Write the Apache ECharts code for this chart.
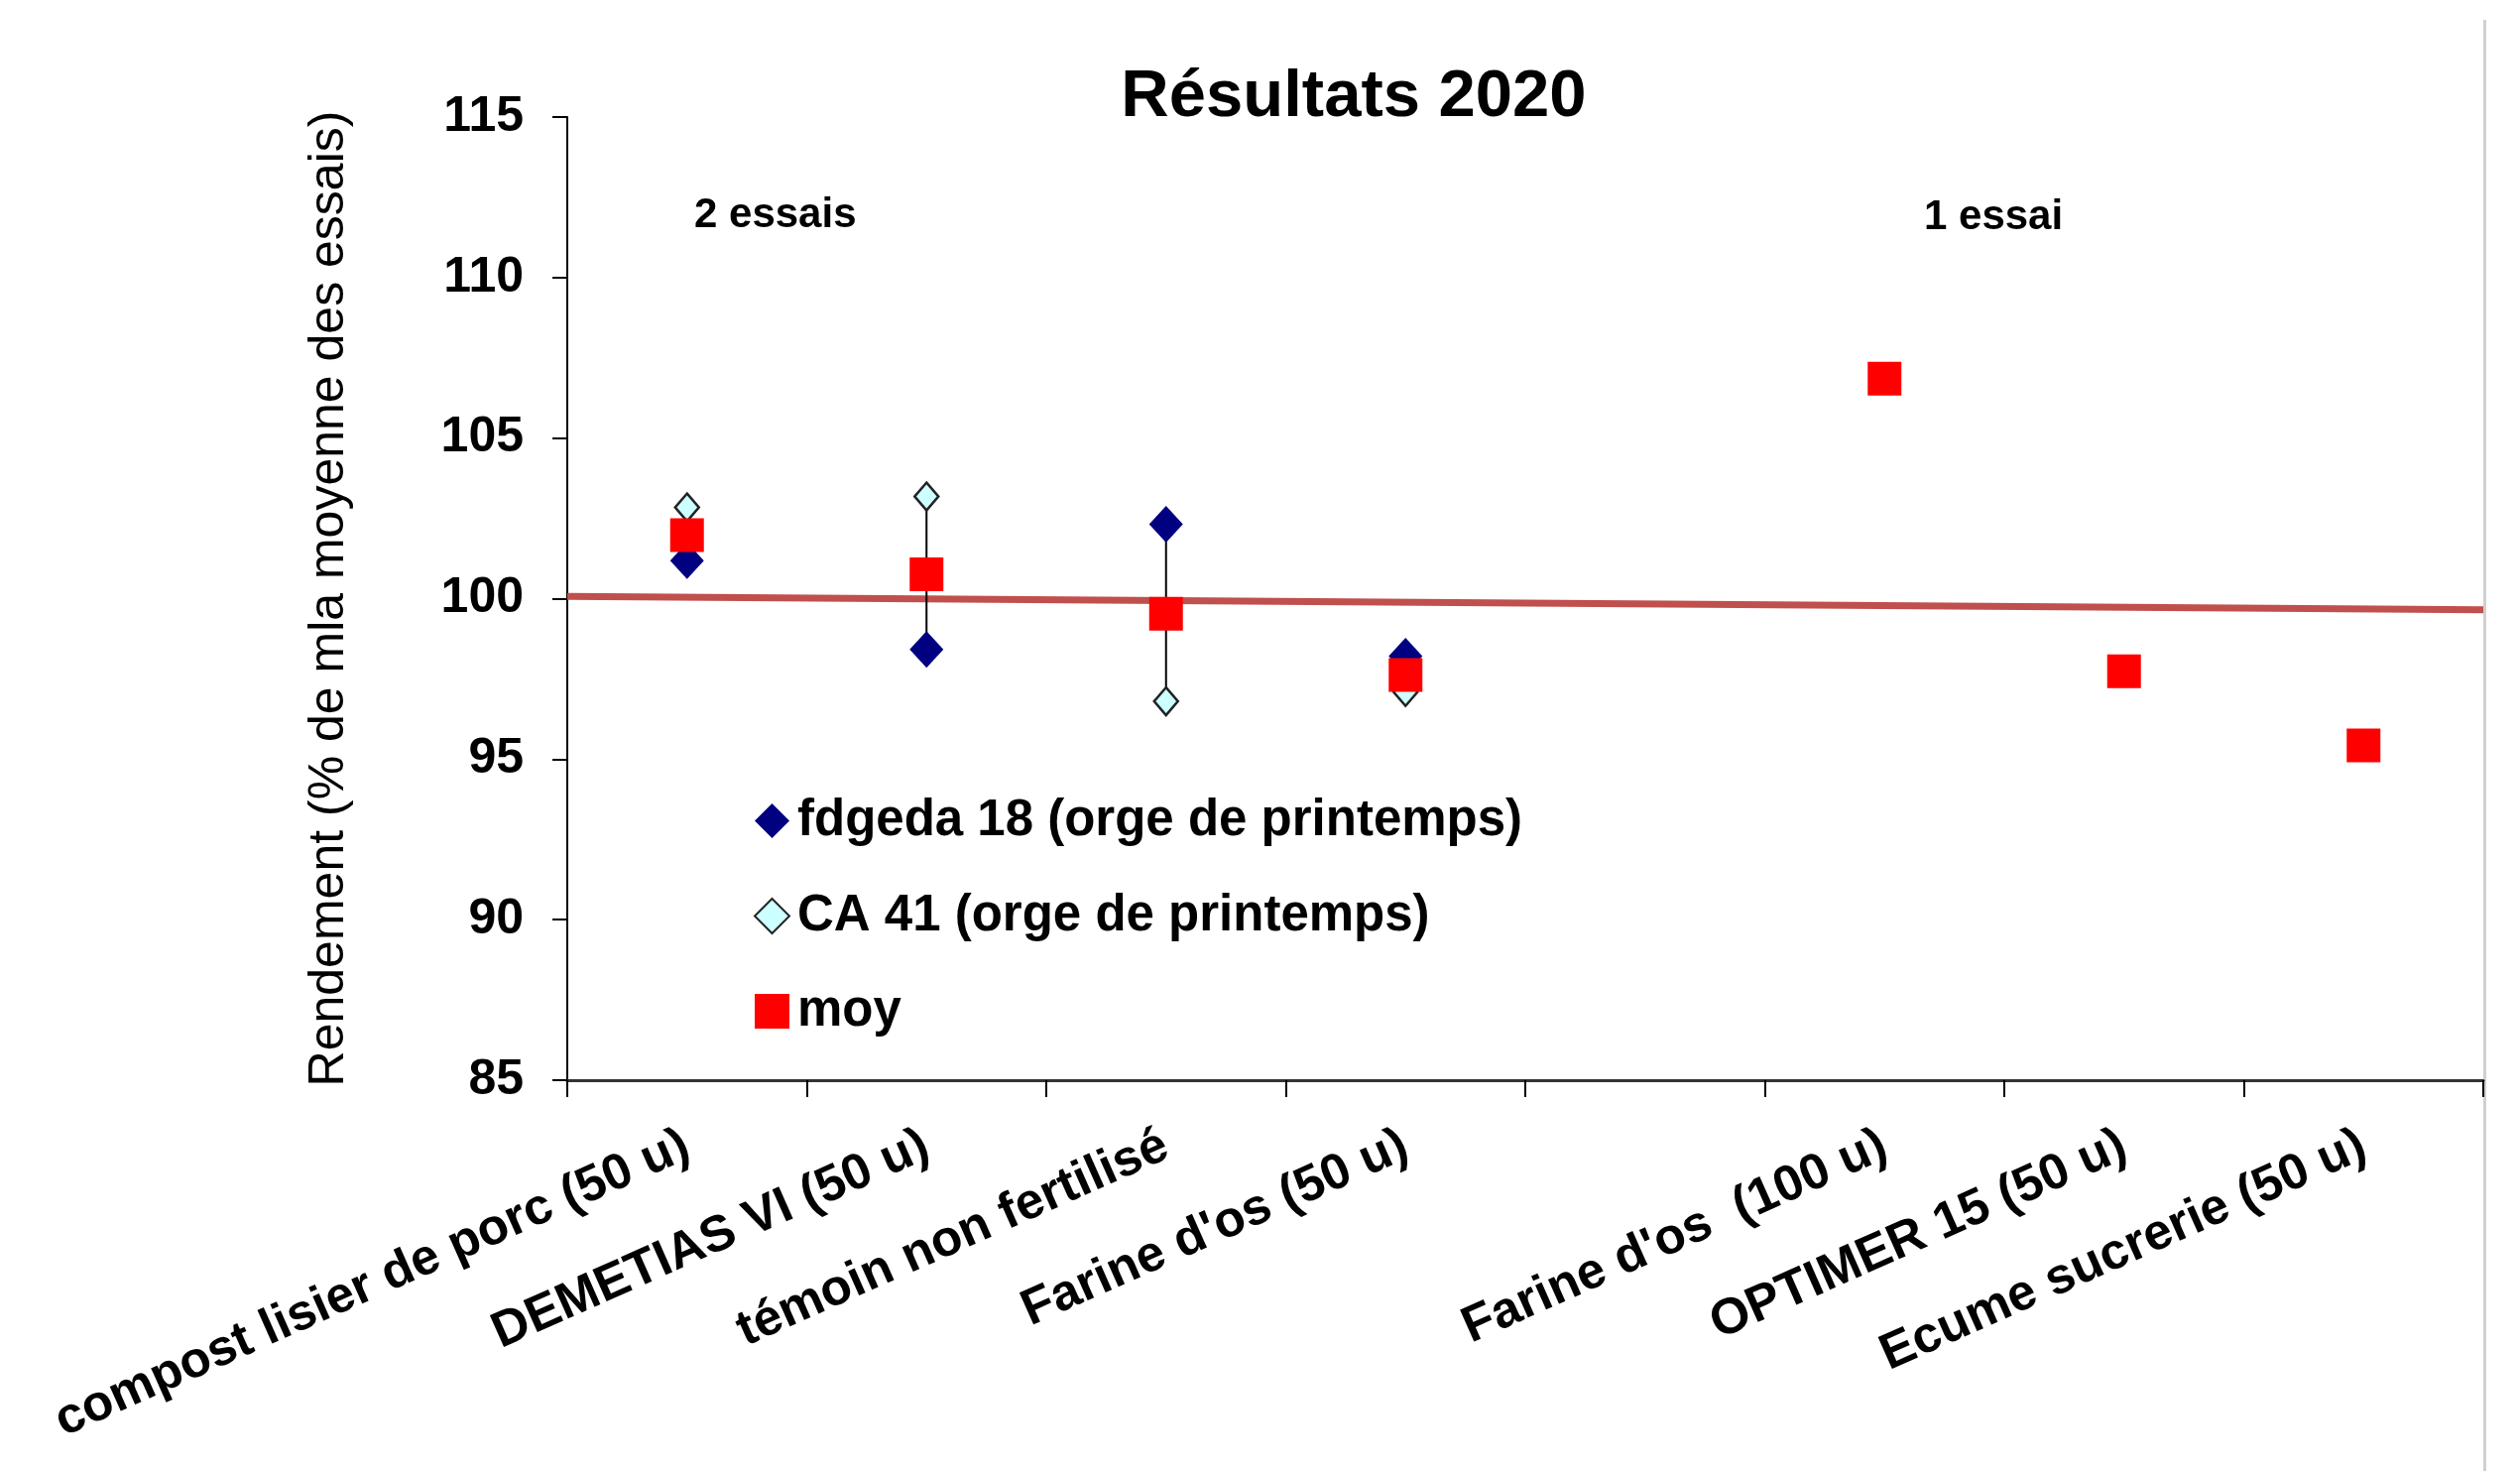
<!DOCTYPE html>
<html>
<head>
<meta charset="utf-8">
<script src="https://cdn.jsdelivr.net/npm/echarts@6/dist/echarts.min.js"></script>
<style>
html,body{margin:0;padding:0;background:#fff;}
#chart{width:2541px;height:1483px;}
</style>
</head>
<body>
<div id="chart"></div>
<script>
const categories = ['compost lisier de porc (50 u)', 'DEMETIAS VI (50 u)', 'témoin non fertilisé', "Farine d'os (50 u)", '', "Farine d'os  (100 u)", 'OPTIMER 15 (50 u)', 'Ecume sucrerie (50 u)'];
const fdgeda = [101.18, 98.42, 102.32, 98.21, null, null, null, null];
const ca41 = [102.84, 103.18, 96.80, 97.09, null, null, null, null];
const moy = [101.98, 100.76, 99.53, 97.62, null, 106.85, 97.74, 95.43];
const trendX = [0, 1];
const trendY = [100.07, 99.65];
const yTicks = [85, 90, 95, 100, 105, 110, 115];

const FONT = "'Liberation Sans', Arial, sans-serif";
const chart = echarts.init(document.getElementById('chart'), null, {renderer: 'canvas'});

const rangeData = [];
for (let i = 0; i < categories.length; i++) {
  if (fdgeda[i] != null && ca41[i] != null) rangeData.push([i, fdgeda[i], ca41[i]]);
}

chart.setOption({
  backgroundColor: '#ffffff',
  animation: false,
  title: {
    text: 'Résultats 2020',
    left: 1360, top: 60, textAlign: 'center',
    textStyle: {fontFamily: FONT, fontSize: 67, fontWeight: 'bold', color: '#000'}
  },
  legend: {
    orient: 'vertical', left: 755, top: 797, itemGap: 45,
    itemWidth: 35, itemHeight: 35,
    data: ['fdgeda 18 (orge de printemps)', 'CA 41 (orge de printemps)', 'moy'],
    textStyle: {fontFamily: FONT, fontSize: 51, fontWeight: 'bold', color: '#000', lineHeight: 50, padding: [0,0,0,3]}
  },
  grid: {left: 572, right: 37, top: 118, bottom: 394, containLabel: false},
  xAxis: [{
    type: 'category', data: categories, boundaryGap: true,
    axisLine: {show: true, lineStyle: {color: '#333', width: 3}},
    axisTick: {show: true, interval: 0, alignWithLabel: false, length: 17, lineStyle: {color: '#000', width: 2}},
    axisLabel: {interval: 0, rotate: 24, margin: 64, fontFamily: FONT, fontSize: 51, fontWeight: 'bold', color: '#000'},
    splitLine: {show: false}
  }, {
    type: 'value', min: 0, max: 1, show: false
  }],
  yAxis: {
    type: 'value', min: yTicks[0], max: yTicks[yTicks.length - 1], interval: 5,
    name: 'Rendement (% de mla moyenne des essais)', nameLocation: 'middle', nameGap: 215, nameRotate: 90,
    nameTextStyle: {fontFamily: FONT, fontSize: 50, fontWeight: 'normal', color: '#000'},
    axisLine: {show: true, lineStyle: {color: '#000', width: 2}},
    axisTick: {show: true, length: 15, lineStyle: {color: '#000', width: 2}},
    axisLabel: {margin: 44, fontFamily: FONT, fontSize: 50, fontWeight: 'bold', color: '#000'},
    splitLine: {show: false}
  },
  series: [{
    name: 'tendance', type: 'line', xAxisIndex: 1,
    data: trendX.map((x, i) => [x, trendY[i]]),
    symbol: 'none', lineStyle: {color: '#C0504D', width: 7, opacity: 1}, z: 1, silent: true
  }, {
    name: 'range', type: 'custom', xAxisIndex: 0, z: 2, silent: true,
    data: rangeData,
    renderItem: function (params, api) {
      const a = api.coord([api.value(0), api.value(1)]);
      const b = api.coord([api.value(0), api.value(2)]);
      return {type: 'line', shape: {x1: a[0], y1: a[1], x2: b[0], y2: b[1]}, style: {stroke: '#000', lineWidth: 2}};
    }
  }, {
    name: 'fdgeda 18 (orge de printemps)', type: 'scatter', xAxisIndex: 0,
    data: fdgeda, symbol: 'diamond', symbolSize: [34, 37],
    itemStyle: {color: '#000080', opacity: 1}, z: 3
  }, {
    name: 'CA 41 (orge de printemps)', type: 'scatter', xAxisIndex: 0,
    data: ca41, symbol: 'diamond', symbolSize: [24, 28],
    itemStyle: {color: '#CCFFFF', borderColor: '#222', borderWidth: 2.5, opacity: 1}, z: 3
  }, {
    name: 'moy', type: 'scatter', xAxisIndex: 0,
    data: moy, symbol: 'rect', symbolSize: 34,
    itemStyle: {color: '#FF0000', opacity: 1}, z: 4
  }],
  graphic: [{
    type: 'text', left: 700, top: 196,
    style: {text: '2 essais', fontFamily: FONT, fontSize: 42, fontWeight: 'bold', fill: '#000'}
  }, {
    type: 'text', left: 1940, top: 198,
    style: {text: '1 essai', fontFamily: FONT, fontSize: 42, fontWeight: 'bold', fill: '#000'}
  }, {
    type: 'rect', left: 2504, top: 20,
    shape: {width: 3, height: 1463},
    style: {fill: '#d0d0d0'}
  }]
});
</script>
</body>
</html>
